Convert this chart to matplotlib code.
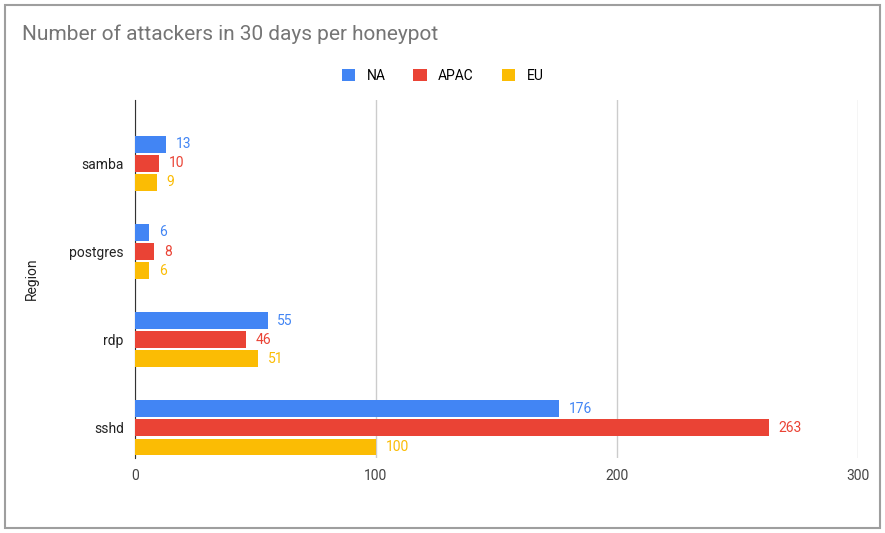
import matplotlib
matplotlib.use("Agg")
import matplotlib.pyplot as plt
from matplotlib.patches import Rectangle
import numpy as np

categories = ["samba", "postgres", "rdp", "sshd"]
na = [13, 6, 55, 176]
apac = [10, 8, 46, 263]
eu = [9, 6, 51, 100]
series = [("NA", na, "#4285F4"), ("APAC", apac, "#EA4335"), ("EU", eu, "#FBBC04")]
xticks = [0, 100, 200, 300]

plt.rcParams["font.family"] = "Roboto"
fig = plt.figure(figsize=(8.85, 5.33), dpi=100)
fig.patches.append(Rectangle((0.006, 0.009), 0.988, 0.982, transform=fig.transFigure,
                             fill=False, edgecolor="#9e9e9e", linewidth=1.5))
ax = fig.add_axes([0.1525, 0.141, 0.817, 0.671])
y = np.arange(len(categories))
h = 0.19
off = 0.216
for i, (name, vals, c) in enumerate(series):
    pos = y + (i - 1) * off
    ax.barh(pos, vals, height=h, color=c, label=name, zorder=3)
    for p, v in zip(pos, vals):
        ax.text(v + 4, p, str(v), va="center", ha="left", color=c, fontsize=10)
ax.set_ylim(3.34, -0.716)
ax.set_xlim(0, 300)
ax.set_xticks(xticks)
ax.set_yticks(y)
ax.set_yticklabels(categories, fontsize=10, color="#222222")
ax.tick_params(axis="x", labelsize=10, colors="#444444", length=0, pad=8)
ax.tick_params(axis="y", length=0, pad=8)
ax.grid(axis="x", color="#cccccc", linewidth=1, zorder=0)
for s in ["top", "right", "bottom"]:
    ax.spines[s].set_visible(False)
ax.spines["left"].set_color("#333333")
ax.set_ylabel("Region", fontsize=10, color="#222222", labelpad=22)
fig.text(0.025, 0.935, "Number of attackers in 30 days per honeypot", fontsize=15,
         color="#757575", ha="left", va="center")
fig.legend(loc="center", bbox_to_anchor=(0.5, 0.858), ncol=3, frameon=False,
           fontsize=10, handlelength=1.0, handleheight=1.0, columnspacing=2.0)
fig.savefig("out.png", dpi=100)
